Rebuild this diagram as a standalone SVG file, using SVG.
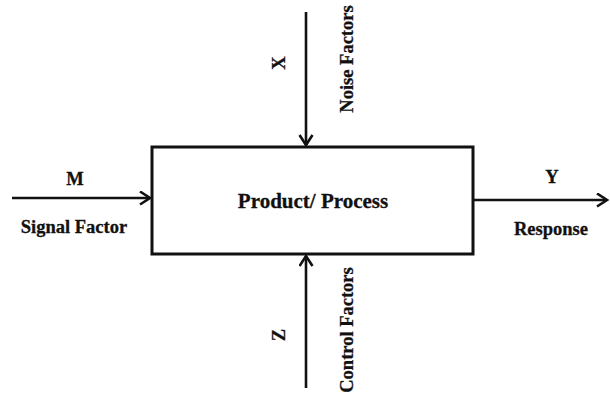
<svg xmlns="http://www.w3.org/2000/svg" width="610" height="402" viewBox="0 0 610 402">
<defs>
<style>
text{font-family:"Liberation Serif","Times New Roman",serif;font-weight:bold;fill:#111;stroke:#111;stroke-width:0.3;}
.lbl{font-size:18.5px;}
.main{font-size:21px;}
.conn line{stroke:#111;stroke-width:2.6;fill:none;}
</style>
<marker id="arr" markerUnits="userSpaceOnUse" markerWidth="14" markerHeight="16" refX="11" refY="7.5" orient="auto">
<path d="M1,1 L11,7.5 L1,14" fill="none" stroke="#111" stroke-width="2.6"/>
</marker>
</defs>
<rect width="610" height="402" fill="#fff"/>
<g id="process">
<rect x="152" y="147" width="321" height="107" fill="#fff" stroke="#111" stroke-width="3"/>
<text class="main" x="313" y="208" text-anchor="middle">Product/ Process</text>
</g>
<g class="conn" id="connectors">
<line x1="12" y1="198" x2="150" y2="198" marker-end="url(#arr)"/>
<line x1="473" y1="200" x2="607" y2="200" marker-end="url(#arr)"/>
<line x1="306" y1="12" x2="306" y2="145" marker-end="url(#arr)"/>
<line x1="306" y1="388" x2="306" y2="256" marker-end="url(#arr)"/>
</g>
<g id="signal">
<text class="lbl" x="75" y="185" text-anchor="middle">M</text>
<text class="lbl" x="74" y="233" text-anchor="middle">Signal Factor</text>
</g>
<g id="response">
<text class="lbl" x="552" y="183" text-anchor="middle">Y</text>
<text class="lbl" x="551" y="235" text-anchor="middle">Response</text>
</g>
<g id="noise">
<text class="lbl" transform="translate(285,63) rotate(-90)" text-anchor="middle">X</text>
<text class="lbl" transform="translate(353,59) rotate(-90)" text-anchor="middle">Noise Factors</text>
</g>
<g id="control">
<text class="lbl" transform="translate(285,335) rotate(-90)" text-anchor="middle">Z</text>
<text class="lbl" transform="translate(353,330) rotate(-90)" text-anchor="middle">Control Factors</text>
</g>
</svg>
